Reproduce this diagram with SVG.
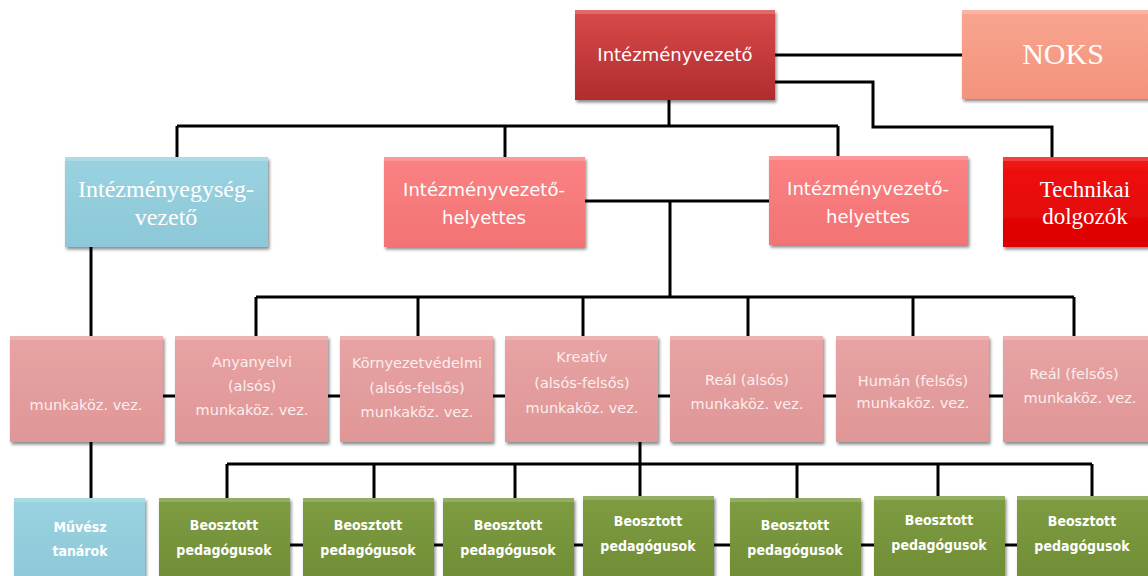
<svg xmlns="http://www.w3.org/2000/svg" width="1148" height="576" viewBox="0 0 1148 576">
<style>
.conn line,.conn polyline{stroke:#000;stroke-width:3;fill:none}
.box{filter:url(#sh)}
.hl{fill:#fff;opacity:.18}
.sans{font-family:"DejaVu Sans",Verdana,sans-serif;fill:#fff;text-anchor:middle}
.serif{font-family:"Liberation Serif","Times New Roman",serif;fill:#fff;text-anchor:middle}
.bold{font-family:"DejaVu Sans Condensed","DejaVu Sans",sans-serif;font-weight:bold;fill:#fff;text-anchor:middle;font-size:14px}
.r3{font-size:14.5px;fill:#fbeeee}
.dark{fill:url(#gDark)} .noks{fill:url(#gNoks)} .blue{fill:url(#gBlue)} .hely{fill:url(#gHely)}
.tech{fill:url(#gTech)} .pink{fill:url(#gPink)} .green{fill:url(#gGreen)}
</style>
<defs>
<filter id="sh" x="-10%" y="-10%" width="125%" height="130%">
<feDropShadow dx="1.5" dy="2.5" stdDeviation="1.8" flood-color="#000" flood-opacity="0.45"/>
</filter>
<linearGradient id="gDark" x1="0" y1="0" x2="0" y2="1"><stop offset="0" stop-color="#d94a4b"/><stop offset="1" stop-color="#b02c2e"/></linearGradient>
<linearGradient id="gNoks" x1="0" y1="0" x2="0" y2="1"><stop offset="0" stop-color="#f9a590"/><stop offset="1" stop-color="#f3937c"/></linearGradient>
<linearGradient id="gBlue" x1="0" y1="0" x2="0" y2="1"><stop offset="0" stop-color="#9ad2e0"/><stop offset="1" stop-color="#8cc8d8"/></linearGradient>
<linearGradient id="gHely" x1="0" y1="0" x2="0" y2="1"><stop offset="0" stop-color="#fb8283"/><stop offset="1" stop-color="#f27374"/></linearGradient>
<linearGradient id="gTech" x1="0" y1="0" x2="0" y2="1"><stop offset="0" stop-color="#f21414"/><stop offset="1" stop-color="#dc0000"/></linearGradient>
<linearGradient id="gPink" x1="0" y1="0" x2="0" y2="1"><stop offset="0" stop-color="#e8a3a3"/><stop offset="1" stop-color="#df9697"/></linearGradient>
<linearGradient id="gGreen" x1="0" y1="0" x2="0" y2="1"><stop offset="0" stop-color="#7e9c41"/><stop offset="1" stop-color="#6f8c35"/></linearGradient>
</defs>
<rect width="1148" height="576" fill="#fff"/>

<g class="conn" id="connectors">
<line x1="775" y1="55" x2="962" y2="55"/>
<polyline points="775,82 873,82 873,127 1052,127 1052,157"/>
<line x1="669" y1="100" x2="669" y2="126"/>
<line x1="177" y1="126" x2="838" y2="126"/>
<line x1="177" y1="126" x2="177" y2="157"/>
<line x1="505" y1="126" x2="505" y2="157"/>
<line x1="838" y1="126" x2="838" y2="157"/>
<line x1="585" y1="201" x2="769" y2="201"/>
<line x1="670" y1="201" x2="670" y2="297"/>
<line x1="256" y1="297" x2="1074" y2="297"/>
<line x1="256" y1="297" x2="256" y2="336"/>
<line x1="418" y1="297" x2="418" y2="336"/>
<line x1="583" y1="297" x2="583" y2="336"/>
<line x1="748" y1="297" x2="748" y2="336"/>
<line x1="913" y1="297" x2="913" y2="336"/>
<line x1="1074" y1="297" x2="1074" y2="336"/>
<line x1="91" y1="247" x2="91" y2="337"/>
<line x1="91" y1="442" x2="91" y2="498"/>
<line x1="161" y1="396" x2="177" y2="396"/>
<line x1="326" y1="396" x2="342" y2="396"/>
<line x1="491" y1="396" x2="507" y2="396"/>
<line x1="656" y1="396" x2="672" y2="396"/>
<line x1="821" y1="396" x2="838" y2="396"/>
<line x1="987" y1="396" x2="1005" y2="396"/>
<line x1="640" y1="442" x2="640" y2="498"/>
<line x1="227" y1="464" x2="1092" y2="464"/>
<line x1="227" y1="464" x2="227" y2="498"/>
<line x1="374" y1="464" x2="374" y2="498"/>
<line x1="515" y1="464" x2="515" y2="498"/>
<line x1="797" y1="464" x2="797" y2="498"/>
<line x1="938" y1="464" x2="938" y2="498"/>
<line x1="1092" y1="464" x2="1092" y2="498"/>
<line x1="288" y1="545" x2="305" y2="545"/>
<line x1="432" y1="545" x2="445" y2="545"/>
<line x1="572" y1="545" x2="585" y2="545"/>
<line x1="712" y1="545" x2="732" y2="545"/>
<line x1="859" y1="545" x2="876" y2="545"/>
<line x1="1003" y1="545" x2="1019" y2="545"/>
</g>

<g id="n-vezeto"><rect class="box dark" x="575" y="10" width="200" height="90"/><rect class="hl" x="575" y="10" width="200" height="4"/><text class="sans" x="675" y="61" font-size="18">Intézményvezető</text></g>
<g id="n-noks"><rect class="box noks" x="962" y="10" width="200" height="89"/><rect class="hl" x="962" y="10" width="200" height="4"/><text class="serif" x="1063" y="64" font-size="30">NOKS</text></g>

<g id="n-egyseg"><rect class="box blue" x="65" y="157" width="203" height="90"/><rect class="hl" x="65" y="157" width="203" height="4"/><text class="serif" font-size="24"><tspan x="166" y="197">Intézményegység-</tspan><tspan x="166" y="225">vezető</tspan></text></g>
<g id="n-hely1"><rect class="box hely" x="384" y="157" width="201" height="90"/><rect class="hl" x="384" y="157" width="201" height="4"/><text class="sans" font-size="18"><tspan x="484" y="196">Intézményvezető-</tspan><tspan x="484" y="224">helyettes</tspan></text></g>
<g id="n-hely2"><rect class="box hely" x="769" y="156" width="199" height="89"/><rect class="hl" x="769" y="156" width="199" height="4"/><text class="sans" font-size="18"><tspan x="868" y="195">Intézményvezető-</tspan><tspan x="868" y="223">helyettes</tspan></text></g>
<g id="n-tech"><rect class="box tech" x="1003" y="157" width="160" height="90"/><rect class="hl" x="1003" y="157" width="160" height="4"/><text class="serif" font-size="23"><tspan x="1085" y="197">Technikai</tspan><tspan x="1085" y="224">dolgozók</tspan></text></g>

<g id="n-mk1"><rect class="box pink" x="10" y="336" width="153" height="106"/><rect class="hl" x="10" y="336" width="153" height="4"/><text class="sans r3" x="86" y="410">munkaköz. vez.</text></g>
<g id="n-mk2"><rect class="box pink" x="175" y="336" width="153" height="106"/><rect class="hl" x="175" y="336" width="153" height="4"/><text class="sans r3"><tspan x="252" y="367">Anyanyelvi</tspan><tspan x="252" y="391">(alsós)</tspan><tspan x="252" y="415">munkaköz. vez.</tspan></text></g>
<g id="n-mk3"><rect class="box pink" x="340" y="336" width="153" height="106"/><rect class="hl" x="340" y="336" width="153" height="4"/><text class="sans r3"><tspan x="417" y="368">Környezetvédelmi</tspan><tspan x="417" y="393">(alsós-felsős)</tspan><tspan x="417" y="417">munkaköz. vez.</tspan></text></g>
<g id="n-mk4"><rect class="box pink" x="505" y="336" width="153" height="106"/><rect class="hl" x="505" y="336" width="153" height="4"/><text class="sans r3"><tspan x="582" y="362">Kreatív</tspan><tspan x="582" y="388">(alsós-felsős)</tspan><tspan x="582" y="413">munkaköz. vez.</tspan></text></g>
<g id="n-mk5"><rect class="box pink" x="670" y="336" width="153" height="106"/><rect class="hl" x="670" y="336" width="153" height="4"/><text class="sans r3"><tspan x="747" y="385">Reál (alsós)</tspan><tspan x="747" y="409">munkaköz. vez.</tspan></text></g>
<g id="n-mk6"><rect class="box pink" x="836" y="336" width="153" height="106"/><rect class="hl" x="836" y="336" width="153" height="4"/><text class="sans r3"><tspan x="913" y="386">Humán (felsős)</tspan><tspan x="913" y="408">munkaköz. vez.</tspan></text></g>
<g id="n-mk7"><rect class="box pink" x="1003" y="336" width="160" height="106"/><rect class="hl" x="1003" y="336" width="160" height="4"/><text class="sans r3"><tspan x="1074" y="379">Reál (felsős)</tspan><tspan x="1080" y="403">munkaköz. vez.</tspan></text></g>

<g id="n-muvesz"><rect class="box blue" x="14" y="498" width="131" height="90"/><rect class="hl" x="14" y="498" width="131" height="4"/><text class="bold"><tspan x="80" y="532">Művész</tspan><tspan x="80" y="556">tanárok</tspan></text></g>
<g id="n-b1"><rect class="box green" x="159" y="498" width="131" height="90"/><rect class="hl" x="159" y="498" width="131" height="4"/><text class="bold"><tspan x="224" y="530">Beosztott</tspan><tspan x="224" y="555">pedagógusok</tspan></text></g>
<g id="n-b2"><rect class="box green" x="303" y="498" width="131" height="90"/><rect class="hl" x="303" y="498" width="131" height="4"/><text class="bold"><tspan x="368" y="530">Beosztott</tspan><tspan x="368" y="555">pedagógusok</tspan></text></g>
<g id="n-b3"><rect class="box green" x="443" y="498" width="131" height="90"/><rect class="hl" x="443" y="498" width="131" height="4"/><text class="bold"><tspan x="508" y="530">Beosztott</tspan><tspan x="508" y="555">pedagógusok</tspan></text></g>
<g id="n-b4"><rect class="box green" x="583" y="496" width="131" height="92"/><rect class="hl" x="583" y="496" width="131" height="4"/><text class="bold"><tspan x="648" y="526">Beosztott</tspan><tspan x="648" y="551">pedagógusok</tspan></text></g>
<g id="n-b5"><rect class="box green" x="730" y="498" width="131" height="90"/><rect class="hl" x="730" y="498" width="131" height="4"/><text class="bold"><tspan x="795" y="530">Beosztott</tspan><tspan x="795" y="555">pedagógusok</tspan></text></g>
<g id="n-b6"><rect class="box green" x="874" y="496" width="131" height="92"/><rect class="hl" x="874" y="496" width="131" height="4"/><text class="bold"><tspan x="939" y="525">Beosztott</tspan><tspan x="939" y="550">pedagógusok</tspan></text></g>
<g id="n-b7"><rect class="box green" x="1017" y="496" width="131" height="92"/><rect class="hl" x="1017" y="496" width="131" height="4"/><text class="bold"><tspan x="1082" y="526">Beosztott</tspan><tspan x="1082" y="551">pedagógusok</tspan></text></g>
</svg>
